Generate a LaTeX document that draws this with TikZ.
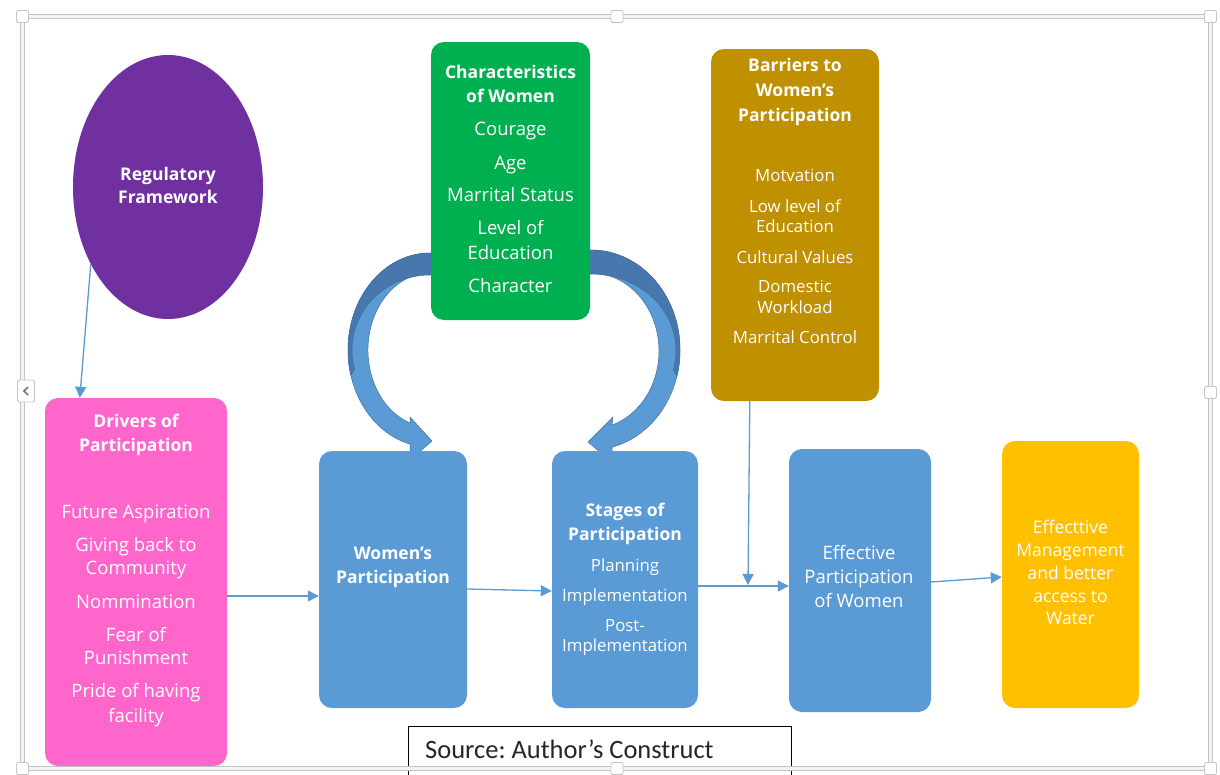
\documentclass[tikz,border=0pt]{standalone}
\usepackage{fontspec}
\setmainfont{Open Sans}
\newfontfamily\calib{Carlito}
\usetikzlibrary{arrows.meta,shapes.geometric}
\definecolor{cpurple}{HTML}{7030A0}
\definecolor{cgreen}{HTML}{00B050}
\definecolor{cgold}{HTML}{BF9000}
\definecolor{cpink}{HTML}{FF66CC}
\definecolor{cblue}{HTML}{5B9BD5}
\definecolor{cdblue}{HTML}{41719C}
\definecolor{cback}{HTML}{4777AD}
\definecolor{cyel}{HTML}{FFC000}
\definecolor{cframe}{HTML}{C4C4C4}
\definecolor{cfin}{HTML}{F4F4F4}
\frenchspacing
\begin{document}
\begin{tikzpicture}[x=1pt,y=-1pt,
  box/.style={rounded corners=13pt, inner sep=0pt, draw=none},
  tA/.style={text=white, anchor=base, inner sep=0pt, font=\fontsize{18.5}{22}\selectfont},
  tB/.style={text=white, anchor=base, inner sep=0pt, font=\bfseries\fontsize{17.5}{21}\selectfont},
  tC/.style={text=white, anchor=base, inner sep=0pt, font=\fontsize{16.8}{20}\selectfont},
  tD/.style={text=white, anchor=base, inner sep=0pt, font=\fontsize{17.5}{21}\selectfont},
  conn/.style={draw=cblue, line width=1.3pt, -{Triangle[length=11pt,width=11pt]}},
  handle/.style={draw=cframe, fill=white, rounded corners=2pt, line width=0.9pt, minimum size=12pt, inner sep=0pt},
  curvef/.style={fill=cblue, draw=cdblue, line width=0.5pt},
  curveb/.style={fill=cback, draw=cdblue, line width=0.5pt},
]
\useasboundingbox (0,0) rectangle (1220,774);
\fill[white] (0,0) rectangle (1220,774);

% curved block arrows (behind the green box)
\path[curvef] (445,253) -- (430,253) arc[start angle=270, end angle=104, x radius=82, y radius=97]
  -- (410,460) -- (432,441) -- (410,417) -- (410,422.9)
  arc[start angle=108.8, end angle=270, x radius=62, y radius=77] -- (445,273) -- cycle;
\path[curveb] (445,253) -- (430,253) arc[start angle=270, end angle=165, x radius=82, y radius=97]
  -- (354.7,369.4) arc[start angle=165, end angle=270, x radius=78, y radius=75] -- (445,275) -- cycle;

\path[curvef] (576,250) -- (591,250) arc[start angle=-90, end angle=76.3, x radius=89, y radius=100]
  -- (612,462) -- (588,442) -- (613,417) -- (612,425.1)
  arc[start angle=72, end angle=-90, x radius=68, y radius=78] -- (576,272) -- cycle;
\path[curveb] (576,250) -- (591,250) arc[start angle=-90, end angle=15, x radius=89, y radius=100]
  -- (673.1,369.7) arc[start angle=15, end angle=-90, x radius=85, y radius=76] -- (576,274) -- cycle;

% shapes
\node[ellipse, fill=cpurple, minimum width=190pt, minimum height=264pt, inner sep=0pt] (reg) at (168,187) {};
\node[box, fill=cgreen, minimum width=159pt, minimum height=278pt] (chr) at (510.5,181) {};
\node[box, fill=cgold, minimum width=168pt, minimum height=352pt] (bar) at (795,225) {};
\node[box, fill=cpink, minimum width=182pt, minimum height=368pt] (drv) at (136,582) {};
\node[box, fill=cblue, minimum width=148pt, minimum height=257pt] (wp) at (393,579.5) {};
\node[box, fill=cblue, minimum width=146pt, minimum height=257pt] (stg) at (625,579.5) {};
\node[box, fill=cblue, minimum width=142pt, minimum height=263pt] (eff) at (860,580.5) {};
\node[box, fill=cyel, minimum width=137pt, minimum height=267pt] (out) at (1070.5,574.5) {};

% texts
\node[tB] (r1) at (168,180) {Regulatory};
\node[tB] (r2) at (168,203) {Framework};

\node[tB] (c1) at (510.5,78) {Characteristics};
\node[tB] (c2) at (510.5,102) {of Women};
\foreach \t/\y [count=\i] in {Courage/129,Age/163,Marrital Status/195,Level of/228,Education/253,Character/286}
  \node[tA] (cl\i) at (510.5,\y+6) {\t};

\node[tB] (b1) at (795,71) {Barriers to};
\node[tB] (b2) at (795,96) {Women's};
\node[tB] (b3) at (795,121) {Participation};
\foreach \t/\y [count=\i] in {Motvation/176,Low level of/207,Education/227,Cultural Values/258,Domestic/287,Workload/308,Marrital Control/338}
  \node[tC] (bl\i) at (795,\y+5.5) {\t};

\node[tB] (d1) at (136,427) {Drivers of};
\node[tB] (d2) at (136,451) {Participation};
\foreach \t/\y [count=\i] in {Future Aspiration/512,Giving back to/545,Community/568,Nommination/602,Fear of/635,Punishment/658,Pride of having/691,facility/716}
  \node[tA] (dl\i) at (136,\y+6) {\t};

\node[tB] (w1) at (393,559) {Women's};
\node[tB] (w2) at (393,583) {Participation};

\node[tB] (s1) at (625,516) {Stages of};
\node[tB] (s2) at (625,540) {Participation};
\foreach \t/\y [count=\i] in {Planning/566,Implementation/596,Post-/626,Implementation/646}
  \node[tC] (sl\i) at (625,\y+5.5) {\t};

\foreach \t/\y [count=\i] in {Effective/553,Participation/577,of Women/601}
  \node[tA] (el\i) at (859,\y+6) {\t};

\foreach \t/\y [count=\i] in {Effecttive/527,Management/550,and better/573,access to/596,Water/618}
  \node[tD] (ol\i) at (1070.5,\y+6) {\t};

% connectors
\coordinate (ya) at (0,596);
\coordinate (yb) at (0,586);
\coordinate (jn) at (748,585);
\draw[conn] (reg.225) -- ([xshift=35pt]drv.north west);
\draw[conn] (drv.east |- ya) -- (wp.west |- ya);
\draw[conn] ([yshift=-9.5pt]wp.east) -- ([yshift=-11.5pt]stg.west);
\draw[conn] (stg.east |- yb) -- (eff.west |- yb);
\draw[conn] ([xshift=39pt]bar.south west) -- (jn);
\draw[conn] ([yshift=-1.5pt]eff.east) -- ([yshift=-2.5pt]out.west);

% source box
\node[draw=black, line width=1.2pt, minimum width=383pt, minimum height=52pt, anchor=north west, inner sep=0pt] (src) at (408,726) {};
\node[anchor=base west, inner sep=0pt, font=\calib\fontsize{26.5}{30}\selectfont, text=black!85] (srct) at (425,758) {Source: Author’s Construct};

% frame
\draw[draw=cframe, double=cfin, double distance=2.6pt, line width=1pt] (22.5,16.5) rectangle (1210.5,768.5);
\node[handle] (h1) at (22.5,16.5) {};
\node[handle] (h2) at (617,16.5) {};
\node[handle] (h3) at (1210.5,16.5) {};
\node[handle] (h4) at (1210.5,392.5) {};
\node[handle] (h5) at (1210.5,768.5) {};
\node[handle] (h6) at (617,768.5) {};
\node[handle] (h7) at (22.5,768.5) {};
\node[handle, minimum width=17pt, minimum height=22pt] (hl) at (26,391) {};
\draw[black!55, line width=1.6pt] ([shift={(2pt,-4pt)}]hl.center) -- ([shift={(-2pt,0pt)}]hl.center) -- ([shift={(2pt,4pt)}]hl.center);
\end{tikzpicture}
\end{document}
